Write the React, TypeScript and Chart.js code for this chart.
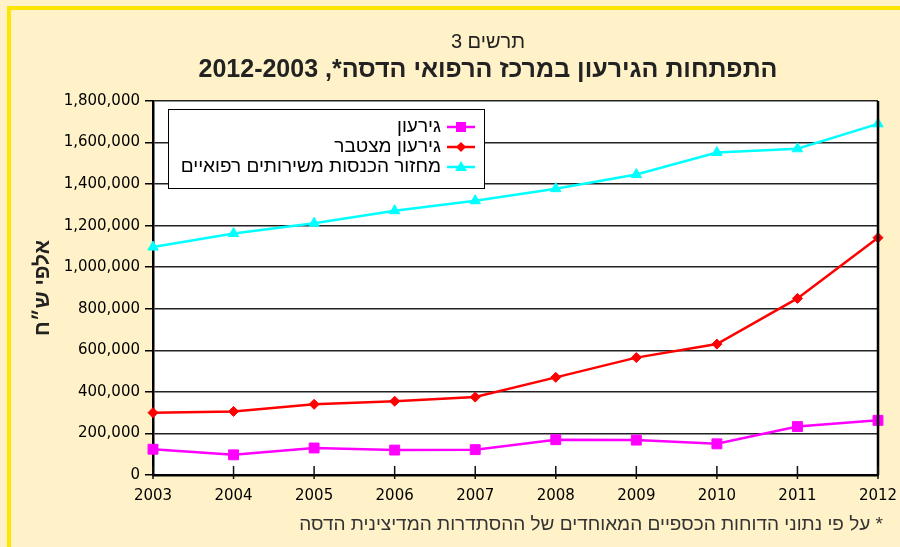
import React, { useEffect, useRef } from "react";
import { Chart, registerables } from "chart.js";

Chart.register(...registerables);

const years = ["2003", "2004", "2005", "2006", "2007", "2008", "2009", "2010", "2011", "2012"];
const deficit = [124000, 97000, 130000, 120000, 122000, 170000, 168000, 150000, 233000, 263000];
const cumulativeDeficit = [300000, 306000, 340000, 355000, 375000, 470000, 565000, 630000, 850000, 1142000];
const medicalRevenue = [1097000, 1162000, 1212000, 1272000, 1320000, 1378000, 1446000, 1552000, 1570000, 1690000];
const seriesLabels = ["גירעון", "גירעון מצטבר", "מחזור הכנסות משירותים רפואיים"];
const seriesColors = ["#FF00FF", "#FF0000", "#00FFFF"];
const seriesMarkers = ["rect", "rectRot", "triangle"];
const yMin = 0;
const yMax = 1800000;
const yStep = 200000;
const chartNumber = "תרשים 3";
const chartTitle = "התפתחות הגירעון במרכז הרפואי הדסה*, 2012-2003";
const yAxisTitle = "אלפי ש״ח";
const footnote = "* על פי נתוני הדוחות הכספיים המאוחדים של ההסתדרות המדיצינית הדסה";

const HEB = "'Liberation Sans', 'DejaVu Sans', sans-serif";
const NUM = "'DejaVu Sans', sans-serif";

function drawMarker(ctx: CanvasRenderingContext2D, kind: string, x: number, y: number, color: string) {
  ctx.save();
  ctx.fillStyle = color;
  ctx.beginPath();
  if (kind === "rect") {
    ctx.rect(x - 5, y - 5, 10, 10);
  } else if (kind === "rectRot") {
    ctx.moveTo(x, y - 5);
    ctx.lineTo(x + 5, y);
    ctx.lineTo(x, y + 5);
    ctx.lineTo(x - 5, y);
    ctx.closePath();
  } else {
    ctx.moveTo(x, y - 6);
    ctx.lineTo(x + 6, y + 4);
    ctx.lineTo(x - 6, y + 4);
    ctx.closePath();
  }
  ctx.fill();
  ctx.restore();
}

const decorPlugin = {
  id: "decor",
  beforeDraw(chart: any) {
    const { ctx, chartArea: a } = chart;
    ctx.save();
    ctx.fillStyle = "#FFFFFF";
    ctx.fillRect(a.left, a.top, a.right - a.left, a.bottom - a.top);
    ctx.restore();
  },
  afterDraw(chart: any) {
    const { ctx, chartArea: a } = chart;
    const xs = chart.scales.x;
    ctx.save();
    // right frame
    ctx.strokeStyle = "#000";
    ctx.lineWidth = 2.5;
    ctx.beginPath();
    ctx.moveTo(a.right, a.top);
    ctx.lineTo(a.right, a.bottom);
    ctx.stroke();
    // x tick marks crossing the axis
    ctx.lineWidth = 1.5;
    ctx.strokeStyle = "#111";
    for (let i = 0; i < years.length; i++) {
      const px = xs.getPixelForTick(i);
      ctx.beginPath();
      ctx.moveTo(px, a.bottom - 9);
      ctx.lineTo(px, a.bottom + 4);
      ctx.stroke();
    }
    // legend
    const lx = a.left + 15;
    const ly = a.top + 8;
    const lw = 316;
    const lh = 79;
    ctx.fillStyle = "#FFFFFF";
    ctx.fillRect(lx, ly, lw, lh);
    ctx.strokeStyle = "#000";
    ctx.lineWidth = 1;
    ctx.strokeRect(lx + 0.5, ly + 0.5, lw, lh);
    ctx.font = `19px ${HEB}`;
    ctx.textBaseline = "middle";
    ctx.textAlign = "right";
    (ctx as any).direction = "rtl";
    chart.data.datasets.forEach((ds: any, i: number) => {
      const ry = ly + 18 + i * 20;
      ctx.fillStyle = "#000";
      ctx.fillText(ds.label, lx + 273, ry);
      ctx.strokeStyle = ds.borderColor;
      ctx.lineWidth = 2.5;
      ctx.beginPath();
      ctx.moveTo(lx + 279, ry);
      ctx.lineTo(lx + 307, ry);
      ctx.stroke();
      drawMarker(ctx, seriesMarkers[i], lx + 293, ry, ds.borderColor);
    });
    // titles
    ctx.fillStyle = "#222";
    ctx.textAlign = "center";
    ctx.font = `20px ${HEB}`;
    ctx.fillText(chartNumber, 488, 42);
    ctx.font = `bold 25px ${HEB}`;
    ctx.fillText(chartTitle, 488, 70);
    // footnote
    ctx.textAlign = "right";
    ctx.font = `19px ${HEB}`;
    ctx.fillStyle = "#333";
    ctx.fillText(footnote, 883, 525);
    ctx.restore();
  },
};

export default function App() {
  const ref = useRef<HTMLCanvasElement | null>(null);
  useEffect(() => {
    if (!ref.current) return;
    const data = [deficit, cumulativeDeficit, medicalRevenue];
    const chart = new Chart(ref.current, {
      type: "line",
      data: {
        labels: years,
        datasets: data.map((vals, i) => ({
          label: seriesLabels[i],
          data: vals,
          borderColor: seriesColors[i],
          backgroundColor: seriesColors[i],
          borderWidth: 2.5,
          pointStyle: seriesMarkers[i] as any,
          pointRadius: i === 0 ? 7 : i === 1 ? 5 : 6,
          pointBorderWidth: 1,
          pointBackgroundColor: seriesColors[i],
          pointBorderColor: seriesColors[i],
          tension: 0,
          fill: false,
        })),
      },
      options: {
        animation: false,
        responsive: false,
        devicePixelRatio: 1,
        layout: { padding: { left: 0, right: 22, top: 101, bottom: 0 } },
        plugins: {
          legend: { display: false },
          title: { display: false },
          tooltip: { enabled: false },
        },
        scales: {
          x: {
            type: "category",
            offset: false,
            grid: { display: true, drawOnChartArea: false, drawTicks: false },
            border: { display: true, color: "#000", width: 2.5 },
            ticks: { color: "#000", font: { family: NUM, size: 15 }, padding: 12, maxRotation: 0, autoSkip: false },
            afterFit: (s: any) => {
              s.height = 72;
              s.paddingRight = 0;
              s.paddingLeft = 0;
            },
          },
          y: {
            min: yMin,
            max: yMax,
            ticks: { stepSize: yStep, color: "#000", font: { family: NUM, size: 15 }, padding: 5 },
            grid: { color: "#222", lineWidth: 1.5, tickLength: 8, tickColor: "#000" },
            border: { display: true, color: "#000", width: 2.5 },
            title: {
              display: true,
              text: yAxisTitle,
              color: "#222",
              font: { family: HEB, size: 21, weight: "bold" },
              padding: { top: 31, bottom: 0 },
            },
            afterFit: (s: any) => {
              s.width = 153;
            },
          },
        },
      },
      plugins: [decorPlugin],
    });
    return () => chart.destroy();
  }, []);

  return (
    <div style={{ position: "absolute", left: 0, top: 0, width: 900, height: 547, background: "#FFF2C8", overflow: "hidden" }}>
      <div
        style={{
          position: "absolute",
          left: 7,
          top: 6,
          width: 900,
          height: 547,
          borderTop: "4px solid #FFE600",
          borderLeft: "4px solid #FFE600",
        }}
      />
      <canvas ref={ref} width={900} height={547} style={{ position: "absolute", left: 0, top: 0, width: 900, height: 547 }} />
    </div>
  );
}
